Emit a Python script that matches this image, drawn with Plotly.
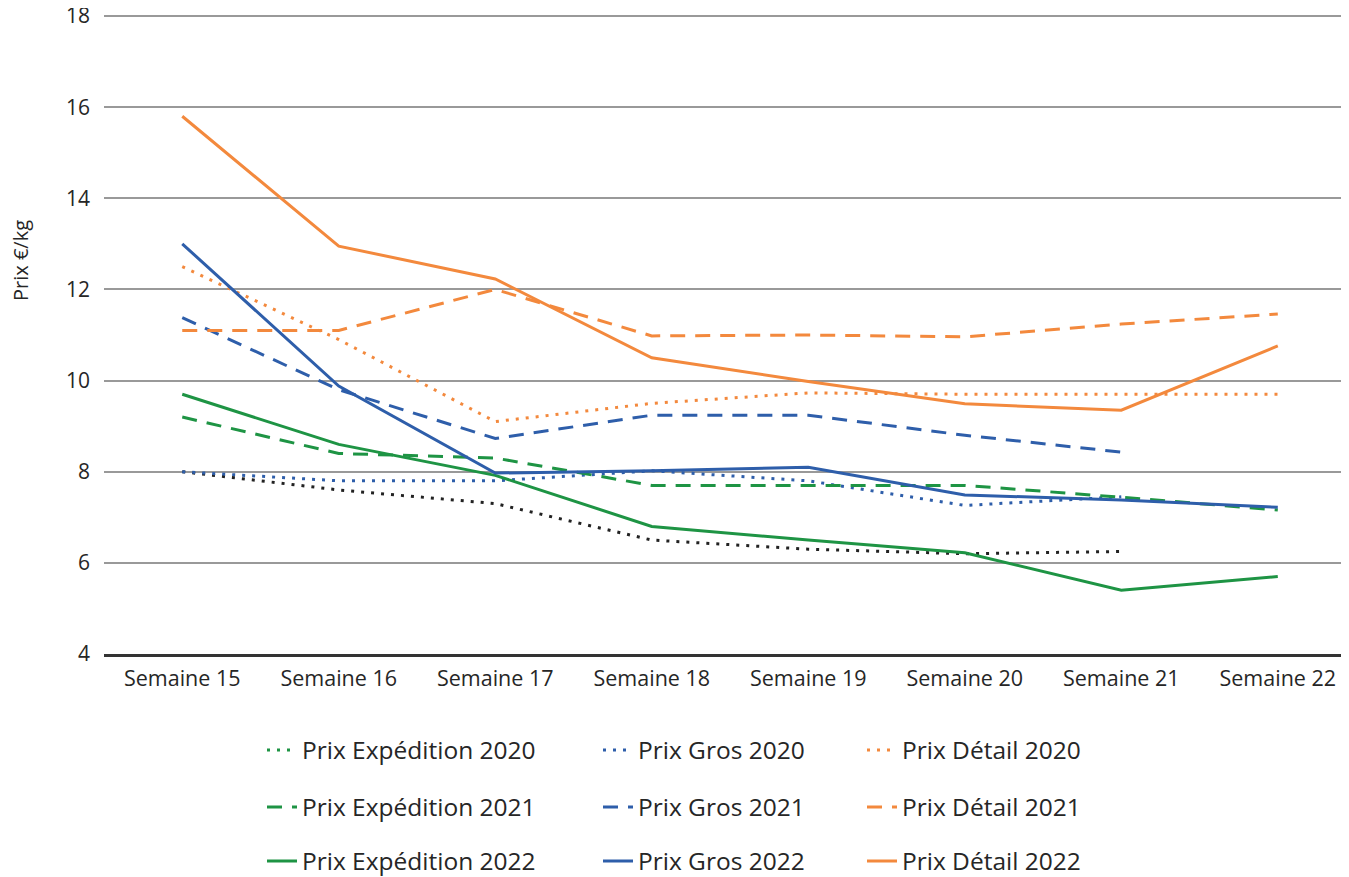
import plotly.graph_objects as go

semaines = ["Semaine 15", "Semaine 16", "Semaine 17", "Semaine 18",
            "Semaine 19", "Semaine 20", "Semaine 21", "Semaine 22"]

exp_2020 = [8.0, 7.6, 7.3, 6.5, 6.3, 6.2, 6.25, None]
gros_2020 = [8.0, 7.8, 7.8, 8.02, 7.8, 7.26, 7.45, None]
detail_2020 = [12.5, 10.9, 9.1, 9.5, 9.73, 9.7, 9.7, 9.7]

exp_2021 = [9.2, 8.4, 8.3, 7.7, 7.7, 7.7, 7.44, 7.16]
gros_2021 = [11.38, 9.8, 8.73, 9.24, 9.24, 8.8, 8.43, None]
detail_2021 = [11.1, 11.1, 12.0, 10.98, 11.0, 10.96, 11.24, 11.46]

exp_2022 = [9.7, 8.6, 7.92, 6.8, 6.5, 6.22, 5.4, 5.7]
gros_2022 = [13.0, 9.88, 7.97, 8.02, 8.1, 7.49, 7.38, 7.22]
detail_2022 = [15.8, 12.95, 12.23, 10.5, 9.98, 9.49, 9.35, 10.76]

GREEN = "#1E9444"
BLUE = "#2E5EAA"
ORANGE = "#F3893D"
BLACK = "#222222"

DOT = "3px,7px"
DASH = "15px,10px"

FONT = "Open Sans"
TXT = "#262626"

series = [
    ("Prix Expédition 2020", exp_2020, GREEN, DOT, "legend"),
    ("Prix Gros 2020", gros_2020, BLUE, DOT, "legend2"),
    ("Prix Détail 2020", detail_2020, ORANGE, DOT, "legend3"),
    ("Prix Expédition 2021", exp_2021, GREEN, DASH, "legend4"),
    ("Prix Gros 2021", gros_2021, BLUE, DASH, "legend5"),
    ("Prix Détail 2021", detail_2021, ORANGE, DASH, "legend6"),
    ("Prix Expédition 2022", exp_2022, GREEN, "solid", "legend7"),
    ("Prix Gros 2022", gros_2022, BLUE, "solid", "legend8"),
    ("Prix Détail 2022", detail_2022, ORANGE, "solid", "legend9"),
]

fig = go.Figure()
for name, vals, color, dash, leg in series:
    if name == "Prix Expédition 2020":
        # drawn in black in the chart, shown in green in the legend
        fig.add_trace(go.Scatter(x=semaines, y=vals, mode="lines", name=name,
                                 line=dict(color=BLACK, width=3, dash=dash),
                                 showlegend=False, connectgaps=False))
        fig.add_trace(go.Scatter(x=[None], y=[None], mode="lines", name=name,
                                 line=dict(color=color, width=3, dash=dash),
                                 legend=leg, showlegend=True))
    else:
        fig.add_trace(go.Scatter(x=semaines, y=vals, mode="lines", name=name,
                                 line=dict(color=color, width=3, dash=dash),
                                 legend=leg, connectgaps=False))

OFF = 8  # page body margin
W, H = 1349 - OFF, 877 - OFF
L, T, B = 104 - OFF, 14 - OFF, 223
pw = W - L
ph = H - T - B

def px_x(x):
    return (x - OFF - L) / pw

def px_y(y):
    return (H - B - (y - OFF)) / ph

col_text = [303, 639, 903]
row_y = [750, 807, 861]
legs = ["legend", "legend2", "legend3", "legend4", "legend5", "legend6",
        "legend7", "legend8", "legend9"]
layout_legs = {}
for i, lg in enumerate(legs):
    r, c = divmod(i, 3)
    layout_legs[lg] = dict(
        x=px_x(col_text[c] - 41), y=px_y(row_y[r]),
        xanchor="left", yanchor="middle",
        font=dict(family=FONT, size=24.5, color=TXT),
        bgcolor="rgba(0,0,0,0)", borderwidth=0,
        orientation="v",
    )

fig.update_layout(
    width=W, height=H,
    margin=dict(l=L, r=0, t=T, b=B, autoexpand=False),
    plot_bgcolor="white", paper_bgcolor="white",
    font=dict(family=FONT, size=20, color=TXT),
    xaxis=dict(
        type="category", range=[-0.5, 7.455], automargin=False,
        showgrid=False, showline=True, linecolor="#333333", linewidth=2.5,
        ticks="", tickfont=dict(family=FONT, size=21.5, color=TXT),
        ticklabelstandoff=3, zeroline=False,
    ),
    yaxis=dict(
        range=[4, 18.044], dtick=2, tick0=4, automargin=False,
        showgrid=True, gridcolor="#999999", gridwidth=1.5,
        zeroline=False, showline=False, ticks="",
        tickfont=dict(family=FONT, size=21, color=TXT),
        ticklabelstandoff=13, ticklabeloverflow="allow",
    ),
    annotations=[dict(
        text="Prix €/kg", textangle=-90, showarrow=False,
        xref="paper", yref="paper", x=px_x(20), y=px_y(261),
        xanchor="center", yanchor="middle",
        font=dict(family=FONT, size=20, color=TXT),
    )],
    **layout_legs,
)

fig.write_html("out.html")
